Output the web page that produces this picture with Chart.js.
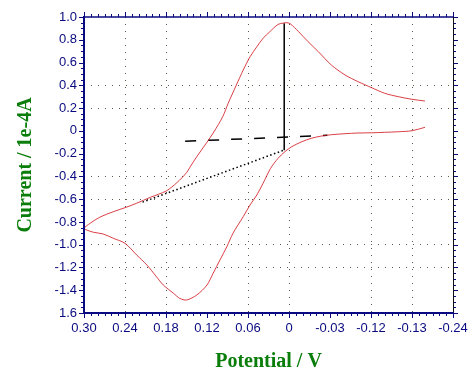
<!DOCTYPE html>
<html>
<head>
<meta charset="utf-8">
<script src="https://cdn.jsdelivr.net/npm/chart.js@4.4.1/dist/chart.umd.min.js"></script>
<style>
  html, body { margin: 0; padding: 0; background: #fff; }
  #wrap { width: 472px; height: 386px; }
</style>
</head>
<body>
<div id="wrap"><canvas id="cv"></canvas></div>
<script>
// Ejes (valores y etiquetas tal como aparecen en la imagen)
const xTickValues = [0.30, 0.24, 0.18, 0.12, 0.06, 0, -0.06, -0.12, -0.18, -0.24];
const xTickLabels = ['0.30', '0.24', '0.18', '0.12', '0.06', '0', '-0.03', '-0.12', '-0.13', '-0.24'];
const yTickValues = [1.0, 0.8, 0.6, 0.4, 0.2, 0, -0.2, -0.4, -0.6, -0.8, -1.0, -1.2, -1.4, -1.6];
const yTickLabels = ['1.0', '0.8', '0.6', '0.4', '0.2', '0', '-0.2', '-0.4', '-0.6', '-0.8', '-1.0', '-1.2', '-1.4', '1.6'];
const xGridValues = [0.24, 0.18, 0.06, 0, -0.12, -0.18];
const yGridValues = [0.4, 0.2, -0.4, -0.6, -1.0, -1.2];

// Voltamograma: rama inferior (derecha -> izquierda) y rama superior (izquierda -> derecha)
const cvPotential = [
  -0.199, -0.180, -0.160, -0.140, -0.121, -0.101, -0.082, -0.062, -0.048, -0.033,
  -0.019, -0.004, 0.006, 0.016, 0.027, 0.038, 0.047, 0.057, 0.067, 0.082,
  0.091, 0.101, 0.111, 0.120, 0.135, 0.150, 0.160, 0.169, 0.184, 0.194,
  0.208, 0.223, 0.240, 0.257, 0.272, 0.286, 0.296, 0.300,
  0.291, 0.277, 0.257, 0.240, 0.223, 0.203, 0.191, 0.179, 0.164, 0.150,
  0.145, 0.135, 0.120, 0.110, 0.097, 0.089, 0.077, 0.067, 0.057, 0.047,
  0.038, 0.028, 0.016, 0.008, 0.003, -0.002, -0.014, -0.028, -0.043, -0.062,
  -0.082, -0.101, -0.121, -0.140, -0.160, -0.180, -0.199
];
const cvCurrent = [
  0.031, 0.001, -0.008, -0.013, -0.017, -0.019, -0.025, -0.034, -0.045, -0.065,
  -0.095, -0.139, -0.183, -0.241, -0.330, -0.461, -0.563, -0.651, -0.754, -0.900,
  -1.018, -1.134, -1.251, -1.354, -1.442, -1.486, -1.471, -1.427, -1.354, -1.281,
  -1.178, -1.090, -0.988, -0.944, -0.906, -0.891, -0.871, -0.856,
  -0.812, -0.759, -0.710, -0.675, -0.636, -0.584, -0.557, -0.526, -0.455, -0.368,
  -0.320, -0.227, -0.100, -0.010, 0.124, 0.242, 0.403, 0.534, 0.651, 0.739,
  0.813, 0.871, 0.935, 0.947, 0.950, 0.940, 0.871, 0.783, 0.695, 0.578,
  0.491, 0.432, 0.379, 0.330, 0.300, 0.277, 0.262
];

// Líneas de construcción (pico y líneas base)
const peakV = [0.007, 0.007];
const peakI = [0.945, -0.170];
const baseV = [0.009, 0.218];
const baseI = [-0.173, -0.634];
const tangentV = [0.152, -0.056];
const tangentI = [-0.092, -0.039];

const pts = (xs, ys) => xs.map((x, i) => ({ x, y: ys[i] }));
const has = (arr, v) => arr.some(t => Math.abs(t - v) < 1e-9);
const labelOf = (vals, labels, v) => {
  const i = vals.findIndex(t => Math.abs(t - v) < 1e-9);
  return i < 0 ? '' : labels[i];
};

const NAVY = '#0a0a80';
const GREEN = '#0a7d0a';

// Marco con ticks mayores y menores en los cuatro lados
const framePlugin = {
  id: 'frame',
  afterDraw(chart) {
    const { ctx, chartArea: a, scales: { x, y } } = chart;
    ctx.save();
    ctx.lineWidth = 1;
    ctx.strokeStyle = NAVY;
    ctx.beginPath();
    for (let i = -24; i <= 30; i++) {
      const v = i / 100;
      const px = Math.round(x.getPixelForValue(v)) + 0.5;
      const len = has(xTickValues, v) ? 5 : 3;
      ctx.moveTo(px, a.bottom); ctx.lineTo(px, a.bottom + len);
      ctx.moveTo(px, a.top); ctx.lineTo(px, a.top - len);
    }
    for (let i = -32; i <= 20; i++) {
      const v = i / 20;
      const py = Math.round(y.getPixelForValue(v)) + 0.5;
      const len = has(yTickValues, v) ? 5 : 3;
      ctx.moveTo(a.left, py); ctx.lineTo(a.left - len, py);
      ctx.moveTo(a.right, py); ctx.lineTo(a.right + len, py);
    }
    ctx.stroke();

    // bordes
    ctx.lineWidth = 1.5;
    ctx.beginPath();
    ctx.moveTo(a.left, a.top); ctx.lineTo(a.right, a.top);
    ctx.stroke();
    ctx.strokeStyle = '#111';
    ctx.lineWidth = 1;
    ctx.beginPath();
    ctx.moveTo(a.right + 0.5, a.top); ctx.lineTo(a.right + 0.5, a.bottom);
    ctx.stroke();
    ctx.strokeStyle = NAVY;
    ctx.lineWidth = 2;
    ctx.beginPath();
    ctx.moveTo(a.left, a.top - 1); ctx.lineTo(a.left, a.bottom);
    ctx.lineTo(a.right + 1, a.bottom);
    ctx.stroke();
    ctx.restore();
  }
};

new Chart(document.getElementById('cv'), {
  type: 'scatter',
  data: {
    datasets: [
      { data: pts(cvPotential, cvCurrent), showLine: true, borderColor: 'rgba(208,16,24,0.8)', borderWidth: 1, pointRadius: 0, tension: 0.3 },
      { data: pts(peakV, peakI), showLine: true, borderColor: '#000', borderWidth: 1.5, pointRadius: 0 },
      { data: pts(baseV, baseI), showLine: true, borderColor: '#000', borderWidth: 1.5, borderDash: [1.5, 2.5], pointRadius: 0 },
      { data: pts(tangentV, tangentI), showLine: true, borderColor: '#000', borderWidth: 1.5, borderDash: [11, 12], pointRadius: 0 }
    ]
  },
  options: {
    responsive: true,
    maintainAspectRatio: false,
    animation: false,
    events: [],
    layout: { padding: { left: 0, top: 17, right: 19, bottom: 0 } },
    plugins: { legend: { display: false }, tooltip: { enabled: false } },
    scales: {
      x: {
        type: 'linear', reverse: true, min: -0.24, max: 0.30,
        afterBuildTicks: s => { s.ticks = xTickValues.slice().sort((p, q) => p - q).map(v => ({ value: v })); },
        afterFit: s => { s.height = 73; },
        ticks: {
          autoSkip: false, maxRotation: 0, padding: 8, color: NAVY,
          font: { family: 'Liberation Sans, Arial, sans-serif', size: 13 },
          callback: v => labelOf(xTickValues, xTickLabels, v)
        },
        grid: {
          drawTicks: false, lineWidth: 1,
          color: c => (c.tick && has(xGridValues, c.tick.value)) ? '#5a5a4a' : 'rgba(0,0,0,0)'
        },
        border: { display: false, dash: [1, 6] },
        title: {
          display: true, text: 'Potential / V', color: GREEN,
          font: { family: 'Liberation Serif, Times New Roman, serif', size: 20, weight: 'bold' },
          padding: { top: 0, bottom: 12 }
        }
      },
      y: {
        type: 'linear', min: -1.6, max: 1.0,
        afterBuildTicks: s => { s.ticks = yTickValues.slice().sort((p, q) => p - q).map(v => ({ value: v })); },
        afterFit: s => { s.width = 84; },
        ticks: {
          autoSkip: false, padding: 7, color: NAVY,
          font: { family: 'Liberation Sans, Arial, sans-serif', size: 13 },
          callback: v => labelOf(yTickValues, yTickLabels, v)
        },
        grid: {
          drawTicks: false, lineWidth: 1,
          color: c => (c.tick && has(yGridValues, c.tick.value)) ? '#5a5a4a' : 'rgba(0,0,0,0)'
        },
        border: { display: false, dash: [1, 6] },
        title: {
          display: true, text: 'Current / 1e-4A', color: GREEN,
          font: { family: 'Liberation Serif, Times New Roman, serif', size: 20, weight: 'bold' },
          padding: { top: 14, bottom: 0 }
        }
      }
    }
  },
  plugins: [framePlugin]
});
</script>
</body>
</html>
